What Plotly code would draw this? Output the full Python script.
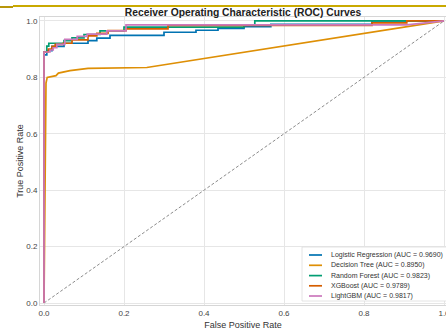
import plotly.graph_objects as go

# ROC points per model (false positive rate, true positive rate)
models = ["Logistic Regression", "Decision Tree", "Random Forest", "XGBoost", "LightGBM"]
auc_scores = [0.9690, 0.8950, 0.9823, 0.9789, 0.9817]
colors = ["#0173b2", "#de8f05", "#029e73", "#d55e00", "#cc78bc"]

fpr_lr = [0, 0, 0.007, 0.007, 0.02, 0.02, 0.05, 0.05, 0.11, 0.11, 0.132, 0.132, 0.165, 0.165,
          0.30, 0.30, 0.38, 0.38, 0.435, 0.435, 0.50, 0.50, 0.567, 0.567, 0.82, 0.82, 1.0]
tpr_lr = [0, 0.88, 0.88, 0.895, 0.895, 0.91, 0.91, 0.921, 0.921, 0.93, 0.93, 0.939, 0.939, 0.949,
          0.949, 0.96, 0.96, 0.967, 0.967, 0.974, 0.974, 0.98, 0.98, 0.988, 0.988, 1.0, 1.0]

fpr_dt = [0, 0.005, 0.008, 0.03, 0.036, 0.06, 0.065, 0.11, 0.257, 1.0]
tpr_dt = [0, 0.78, 0.80, 0.806, 0.815, 0.822, 0.824, 0.832, 0.835, 1.0]

fpr_rf = [0, 0, 0.007, 0.007, 0.012, 0.012, 0.05, 0.05, 0.07, 0.07, 0.10, 0.10, 0.14, 0.14,
          0.20, 0.20, 0.50, 0.50, 0.527, 0.527, 1.0]
tpr_rf = [0, 0.89, 0.89, 0.911, 0.911, 0.921, 0.921, 0.93, 0.93, 0.94, 0.94, 0.952, 0.952, 0.965,
          0.965, 0.978, 0.978, 0.986, 0.986, 1.0, 1.0]

fpr_xgb = [0, 0, 0.011, 0.011, 0.02, 0.02, 0.028, 0.028, 0.048, 0.048, 0.07, 0.07, 0.11, 0.11,
           0.132, 0.132, 0.16, 0.16, 0.205, 0.205, 0.31, 0.31, 0.82, 0.82, 0.907, 0.907, 1.0]
tpr_xgb = [0, 0.89, 0.89, 0.90, 0.90, 0.91, 0.91, 0.917, 0.917, 0.921, 0.921, 0.933, 0.933, 0.947,
           0.947, 0.956, 0.956, 0.966, 0.966, 0.972, 0.972, 0.984, 0.984, 0.993, 0.993, 1.0, 1.0]

fpr_lgbm = [0, 0, 0.015, 0.015, 0.023, 0.023, 0.032, 0.032, 0.052, 0.052, 0.083, 0.083, 0.108, 0.108,
            0.157, 0.157, 0.205, 0.205, 0.907, 1.0]
tpr_lgbm = [0, 0.89, 0.89, 0.897, 0.897, 0.905, 0.905, 0.917, 0.917, 0.935, 0.935, 0.945, 0.945, 0.953,
            0.953, 0.965, 0.965, 0.986, 0.986, 1.0]

curves = [(fpr_lr, tpr_lr), (fpr_dt, tpr_dt), (fpr_rf, tpr_rf), (fpr_xgb, tpr_xgb), (fpr_lgbm, tpr_lgbm)]

x_ticks = [0.0, 0.2, 0.4, 0.6, 0.8, 1.0]
y_ticks = [0.0, 0.2, 0.4, 0.6, 0.8, 1.0]

W, H = 446, 330
ML, MR, MT, MB = 40, 0, 17, 25
PW, PH = W - ML - MR, H - MT - MB


def px_x(px):
    return (px - ML) / PW


def px_y(py):
    return (H - MB - py) / PH


fig = go.Figure()

# chance diagonal
fig.add_trace(go.Scatter(x=[0, 1], y=[0, 1], mode="lines",
                         line=dict(color="#8c8c8c", width=1, dash="3px,2px"),
                         hoverinfo="skip", showlegend=False))

for name, auc, col, (fx, ty) in zip(models, auc_scores, colors, curves):
    fig.add_trace(go.Scatter(x=fx, y=ty, mode="lines", name=f"{name} (AUC = {auc:.4f})",
                             line=dict(color=col, width=1.7), showlegend=False))

shapes = []
annotations = []

# top accent rule
shapes.append(dict(type="line", xref="paper", yref="paper", x0=px_x(13), x1=px_x(447),
                   y0=px_y(6), y1=px_y(6), line=dict(color="#c9a900", width=2)))
shapes.append(dict(type="line", xref="paper", yref="paper", x0=px_x(-1), x1=px_x(13),
                   y0=px_y(7), y1=px_y(7), line=dict(color="#b8960a", width=2)))

# legend box
shapes.append(dict(type="rect", xref="paper", yref="paper", x0=px_x(302), x1=px_x(448),
                   y0=px_y(301), y1=px_y(247), fillcolor="white",
                   line=dict(color="#dddddd", width=0.8), layer="above"))
row_y = [255, 265.3, 275.6, 285.8, 296]
for i, (name, auc, col) in enumerate(zip(models, auc_scores, colors)):
    yy = px_y(row_y[i])
    shapes.append(dict(type="line", xref="paper", yref="paper", x0=px_x(309), x1=px_x(322),
                       y0=yy, y1=yy, line=dict(color=col, width=1.7), layer="above"))
    annotations.append(dict(x=px_x(329), y=yy, xref="paper", yref="paper",
                            text=f"{name} (AUC = {auc:.4f})", showarrow=False,
                            xanchor="left", yanchor="middle",
                            font=dict(size=7, color="#333333")))

fig.update_layout(
    width=W, height=H,
    margin=dict(l=ML, r=MR, t=MT, b=MB),
    paper_bgcolor="white", plot_bgcolor="white",
    font=dict(family="Liberation Sans, Arial, sans-serif", color="#333333"),
    title=dict(text="<b>Receiver Operating Characteristic (ROC) Curves</b>",
               x=0.5, xref="paper", xanchor="center",
               y=1 - 12 / H, yref="container", yanchor="middle",
               font=dict(size=10.3, color="#222222")),
    shapes=shapes, annotations=annotations,
    showlegend=False,
)
fig.update_xaxes(range=[-0.01, 1.005], tickvals=x_ticks, ticktext=[f"{v:.1f}" for v in x_ticks],
                 showgrid=True, gridcolor="#e6e6e6", gridwidth=1, zeroline=False,
                 showline=True, linecolor="#d6d6d6", linewidth=1, mirror=True,
                 tickfont=dict(size=8, color="#444444"), automargin=False,
                 ticklabeloverflow="allow",
                 title=dict(text="False Positive Rate", font=dict(size=9, color="#333333"), standoff=5))
fig.update_yaxes(range=[-0.007, 1.014], tickvals=y_ticks, ticktext=[f"{v:.1f}" for v in y_ticks],
                 showgrid=True, gridcolor="#e6e6e6", gridwidth=1, zeroline=False,
                 showline=True, linecolor="#d6d6d6", linewidth=1, mirror=True,
                 tickfont=dict(size=8, color="#444444"), automargin=False,
                 title=dict(text="True Positive Rate", font=dict(size=9, color="#333333"), standoff=1))

fig.write_html("out.html")
